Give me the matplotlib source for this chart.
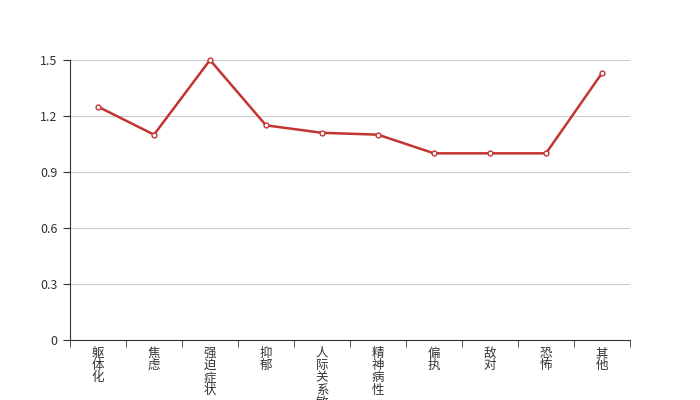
import numpy as np
import matplotlib
matplotlib.use('Agg')
import matplotlib.pyplot as plt
from matplotlib.ticker import FixedLocator

plt.rcParams['font.family'] = ['Noto Sans CJK SC', 'DejaVu Sans']

categories = ['躯体化', '焦虑', '强迫症状', '抑郁', '人际关系敏感', '精神病性', '偏执', '敌对', '恐怖', '其他']
values = [1.25, 1.10, 1.50, 1.15, 1.11, 1.10, 1.00, 1.00, 1.00, 1.43]
yticks = [0, 0.3, 0.6, 0.9, 1.2, 1.5]
ytick_labels = ['0', '0.3', '0.6', '0.9', '1.2', '1.5']


def main():
    fig = plt.figure(figsize=(7, 4), dpi=100)
    ax = fig.add_axes([0.1, 0.15, 0.8, 0.70])

    x = np.arange(len(categories))
    ax.plot(x, values, color='#c23531', linewidth=1.8, marker='o', markersize=3.5,
            markerfacecolor='white', markeredgecolor='#c23531', markeredgewidth=1,
            zorder=3, clip_on=False)

    ax.set_xlim(-0.5, len(categories) - 0.5)
    ax.set_ylim(0, 1.5)

    ax.set_yticks(yticks)
    ax.set_yticklabels(ytick_labels)
    ax.grid(axis='y', color='#cccccc', linewidth=0.8)
    ax.set_axisbelow(True)

    ax.set_xticks(x)
    ax.set_xticklabels(['\n'.join(c) for c in categories], va='top', linespacing=0.92)
    ax.xaxis.set_minor_locator(FixedLocator(np.arange(-0.5, len(categories), 1.0)))
    ax.tick_params(axis='x', which='major', length=0, pad=5, labelsize=9, labelcolor='#333333')
    ax.tick_params(axis='x', which='minor', length=5, color='#333333')
    ax.tick_params(axis='y', length=5, color='#333333', labelsize=9, labelcolor='#333333', pad=4)

    for s in ['top', 'right']:
        ax.spines[s].set_visible(False)
    ax.spines['left'].set_color('#333333')
    ax.spines['bottom'].set_color('#333333')

    fig.savefig('out.png', dpi=100)


if __name__ == "__main__":
    main()
